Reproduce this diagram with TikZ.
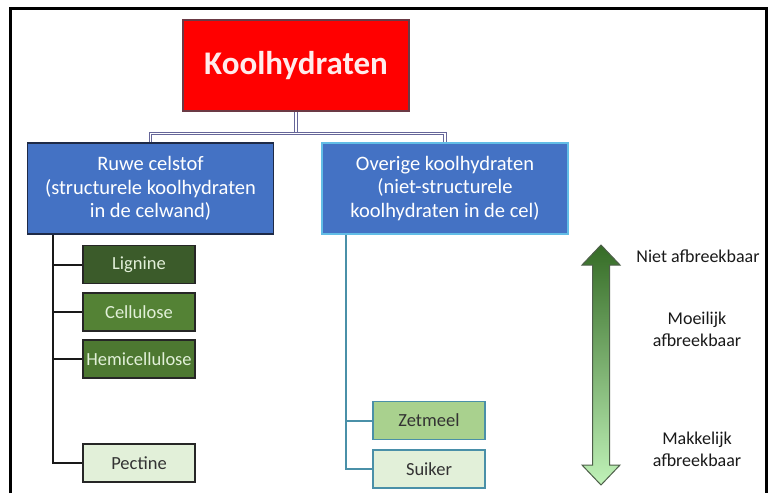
\documentclass[tikz,border=0pt]{standalone}
\usepackage{fontspec}
\setmainfont{Carlito}
\usetikzlibrary{positioning}

\definecolor{kopred}{HTML}{FF0000}
\definecolor{koprand}{HTML}{6B3A45}
\definecolor{blauw}{HTML}{4472C4}
\definecolor{navy}{HTML}{1E2A47}
\definecolor{cyaan}{HTML}{62BDE6}
\definecolor{donkergroen}{HTML}{3B5B2A}
\definecolor{groen}{HTML}{548235}
\definecolor{lichtgroen}{HTML}{E2F0D9}
\definecolor{middengroen}{HTML}{A9D18E}
\definecolor{petrol}{HTML}{4A90A8}
\definecolor{pijlrand}{HTML}{4E5F4A}

\tikzset{
  kop/.style={draw=koprand, line width=1.5pt, fill=kopred, text=red!8,
    minimum width=226pt, minimum height=91pt,
    font=\fontsize{33}{36}\selectfont\bfseries},
  hoofdgroep/.style={fill=blauw, line width=1.5pt, text=white, align=center,
    minimum width=246pt, minimum height=91pt, inner sep=2pt,
    font=\fontsize{20.5}{23.5}\selectfont},
  soort/.style={line width=1.5pt, minimum width=112pt, minimum height=38pt,
    inner sep=1pt, font=\fontsize{18.5}{20}\selectfont},
  tak/.style={line width=2pt},
  verbinding/.style={draw=gray!80!blue, line width=1pt, double=white, double distance=1.2pt},
  schaal/.style={align=center, text=black!90, font=\fontsize{18}{22}\selectfont}
}

\begin{document}
\begin{tikzpicture}[x=1pt,y=-1pt]
  \useasboundingbox (0,0) rectangle (771,493);
  \draw[line width=3pt] (10,493) -- (10,8) -- (766,8) -- (766,493);

  \node[kop] (kool) at (296,65.5) {Koolhydraten};

  \node[hoofdgroep, draw=navy] (ruwe) at (150.5,188.5)
    {Ruwe celstof\\(structurele koolhydraten\\in de celwand)};
  \node[hoofdgroep, draw=cyaan] (overig) at (445,188.5)
    {Overige koolhydraten\\(niet-structurele\\koolhydraten in de cel)};

  \draw[verbinding] (kool.south) -- ++(0,22) coordinate (splits);
  \draw[verbinding] (splits) -| (ruwe.north);
  \draw[verbinding] (splits) -| (overig.north);

  \node[soort, draw=black!85, fill=donkergroen, text=lichtgroen] (lignine) at (139,264.5) {Lignine};
  \node[soort, draw=black!85, fill=groen, text=lichtgroen] (cellulose) at (139,312) {Cellulose};
  \node[soort, draw=black!85, fill=groen!92!black, text=lichtgroen] (hemi) at (139,359) {Hemicellulose};
  \node[soort, draw=black!85, fill=lichtgroen, text=black!80] (pectine) at (139,463) {Pectine};

  \node[soort, draw=petrol, fill=middengroen, text=black!80] (zetmeel) at (429,420.5) {Zetmeel};
  \node[soort, draw=petrol, fill=lichtgroen, text=black!80] (suiker) at (429,469) {Suiker};

  \coordinate (lstam) at ([xshift=26pt]ruwe.south west);
  \draw[tak, draw=black!90] (lstam) |- (pectine.west);
  \foreach \soortnaam in {lignine,cellulose,hemi}
    \draw[tak, draw=black!90] (\soortnaam.west) -- (\soortnaam.west -| lstam);

  \coordinate (rstam) at ([xshift=25pt]overig.south west);
  \draw[tak, draw=petrol] (rstam) |- (suiker.west);
  \draw[tak, draw=petrol] (zetmeel.west) -- (zetmeel.west -| rstam);

  \shade[top color=donkergroen!90!green, bottom color=lichtgroen!85!green, draw=pijlrand, line width=1pt]
    (601,245) -- (620,265) -- (609.5,265) -- (609.5,465) -- (620,465) -- (601,485)
    -- (582,465) -- (592.5,465) -- (592.5,265) -- (582,265) -- cycle;

  \node[schaal] (niet) at (698,256) {Niet afbreekbaar};
  \node[schaal] (moeilijk) at (697,329) {Moeilijk\\afbreekbaar};
  \node[schaal] (makkelijk) at (697,449) {Makkelijk\\afbreekbaar};
\end{tikzpicture}
\end{document}
